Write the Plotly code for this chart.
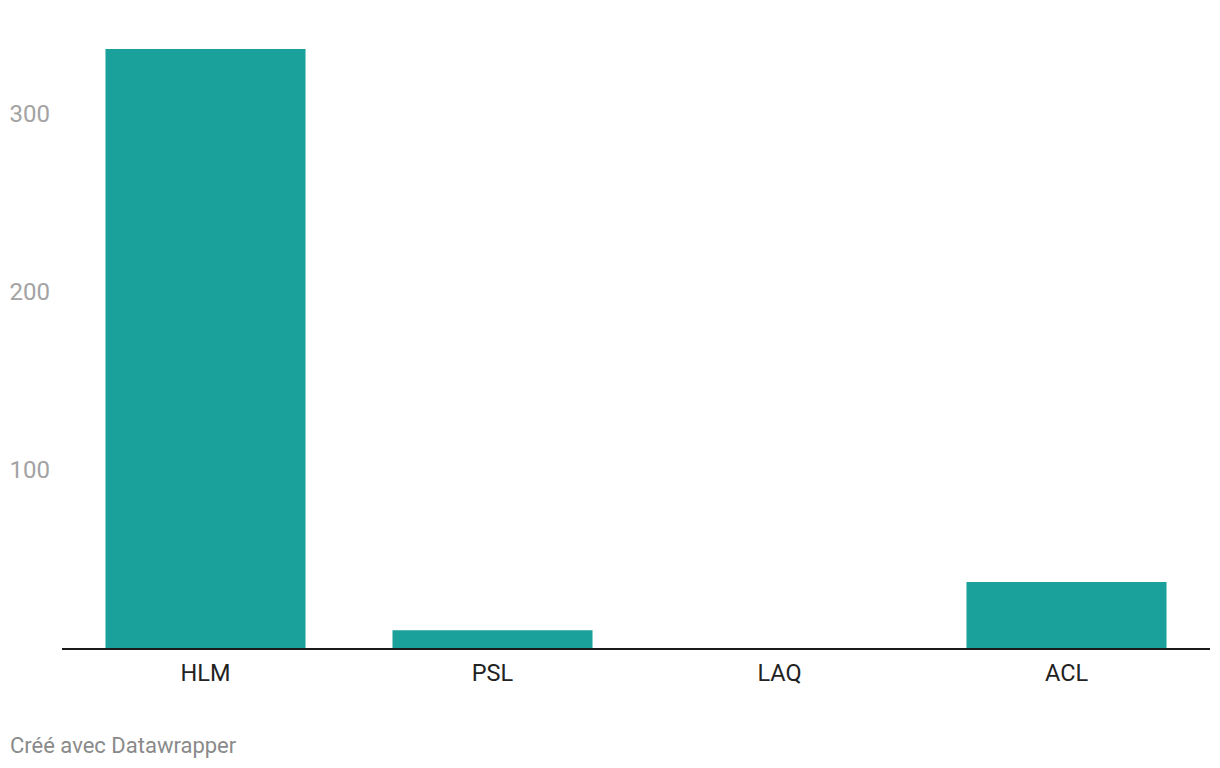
import plotly.graph_objects as go

categories = ["HLM", "PSL", "LAQ", "ACL"]
values = [336, 10, 0, 37]
y_tick_vals = [100, 200, 300]
y_tick_text = ["100", "200", "300"]

bar_color = "#1aa19c"

fig = go.Figure()
fig.add_trace(go.Bar(
    x=categories, y=values,
    marker=dict(color=bar_color, line=dict(width=0)),
    hoverinfo="x+y",
))

fig.update_layout(
    width=1212, height=760,
    margin=dict(l=54, r=10, t=16, b=120),
    paper_bgcolor="white", plot_bgcolor="white",
    font=dict(family="Roboto", size=22),
    bargap=0.303,
    showlegend=False,
    xaxis=dict(
        showgrid=False, zeroline=False, automargin=False,
        showline=True, linecolor="#1a1a1a", linewidth=2,
        ticks="", tickfont=dict(family="Roboto", size=23.5, color="#222222"),
        ticklabelstandoff=3,
    ),
    yaxis=dict(
        range=[0, 350], showgrid=False, zeroline=False, showline=False,
        automargin=False,
        tickvals=y_tick_vals, ticktext=y_tick_text,
        ticks="", tickfont=dict(family="Roboto", size=24, color="#a3a3a3"),
        ticklabelstandoff=11,
    ),
    annotations=[dict(
        text="Créé avec Datawrapper", xref="paper", yref="paper",
        x=-54/1148, y=-97/624, xanchor="left", yanchor="middle",
        showarrow=False, font=dict(family="Roboto", size=22, color="#8a8a8a"),
    )],
)

fig.write_html("out.html")
